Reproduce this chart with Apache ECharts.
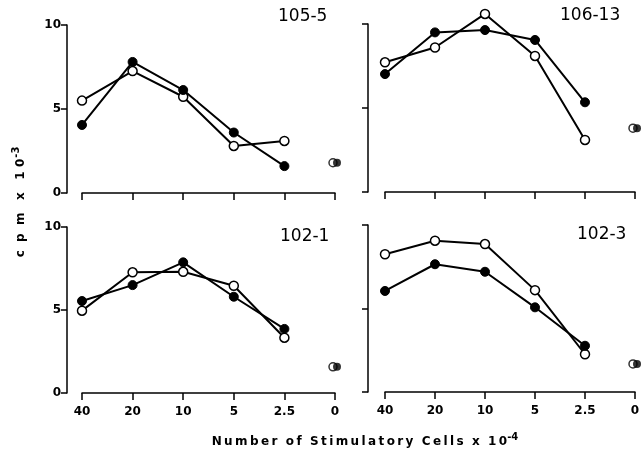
<!DOCTYPE html>
<html>
<head>
<meta charset="utf-8">
<script src="https://cdn.jsdelivr.net/npm/echarts@6/dist/echarts.min.js"></script>
<style>
  html, body { margin: 0; background: #fff; }
  #chart { width: 644px; height: 454px; }
</style>
</head>
<body>
<div id="chart"></div>
<script>
// stimulatory cell doses (x 10^-4), 0 = background
const doses = ["40", "20", "10", "5", "2.5", "0"];
const panelNames = ["105-5", "106-13", "102-1", "102-3"];

// cpm x 10^-3, filled circles
const filledCpm = [
  [4.05, 7.8, 6.13, 3.6, 1.6],
  [7.02, 9.5, 9.64, 9.05, 5.34],
  [5.54, 6.5, 7.87, 5.8, 3.86],
  [6.05, 7.65, 7.2, 5.07, 2.77],
];
// cpm x 10^-3, open circles
const openCpm = [
  [5.5, 7.26, 5.73, 2.8, 3.1],
  [7.72, 8.6, 10.6, 8.1, 3.1],
  [4.96, 7.27, 7.3, 6.46, 3.33],
  [8.25, 9.06, 8.86, 6.1, 2.26],
];
// background (no stimulatory cells)
const filledZero = [1.8, 3.8, 1.58, 1.68];
const openZero = [1.8, 3.8, 1.58, 1.68];

const FONT = "DejaVu Sans";
const layout = [
  { left: 82, top: 25, width: 253, height: 168, yOffset: 15, yLabels: true, xLabels: false, name: [278, 18] },
  { left: 385, top: 24, width: 250, height: 168, yOffset: 17, yLabels: false, xLabels: false, name: [560, 17] },
  { left: 82, top: 227, width: 253, height: 166, yOffset: 15, yLabels: true, xLabels: true, name: [280, 238] },
  { left: 385, top: 225, width: 250, height: 167, yOffset: 17, yLabels: false, xLabels: true, name: [577, 236] },
];

const spaced = (s) => s.split("").join("\u2009");

const grid = [], xAxis = [], yAxis = [], series = [], graphic = [];

layout.forEach((p, i) => {
  grid.push({ left: p.left, top: p.top, width: p.width, height: p.height });
  xAxis.push({
    type: "category",
    gridIndex: i,
    data: doses,
    boundaryGap: false,
    axisLine: { lineStyle: { color: "#000", width: 1.5 } },
    axisTick: { show: true, length: 7, interval: 0, lineStyle: { color: "#000", width: 1.5 } },
    axisLabel: {
      show: p.xLabels, interval: 0, margin: 13, color: "#000",
      fontFamily: FONT, fontWeight: "bold", fontSize: 12,
    },
    splitLine: { show: false },
  });
  yAxis.push({
    type: "value",
    gridIndex: i,
    min: 0, max: 10, interval: 5,
    offset: p.yOffset,
    axisLine: { show: true, lineStyle: { color: "#000", width: 1.5 } },
    axisTick: { show: true, length: 6, lineStyle: { color: "#000", width: 1.5 } },
    axisLabel: {
      show: p.yLabels, margin: 6, color: "#000",
      fontFamily: FONT, fontWeight: "bold", fontSize: 12,
    },
    splitLine: { show: false },
  });

  const common = {
    type: "line", xAxisIndex: i, yAxisIndex: i,
    symbol: "circle", symbolSize: 9, clip: false,
    lineStyle: { color: "#000", width: 2 },
  };
  series.push({
    ...common, name: "open", z: 2,
    data: openCpm[i],
    itemStyle: { color: "#fff", borderColor: "#000", borderWidth: 1.5 },
  });
  series.push({
    ...common, name: "filled", z: 3,
    data: filledCpm[i],
    itemStyle: { color: "#000", borderColor: "#000", borderWidth: 1 },
  });
  series.push({
    type: "scatter", xAxisIndex: i, yAxisIndex: i, z: 2,
    symbol: "circle", symbolSize: 8, symbolOffset: [-2, 0], clip: false,
    data: [[doses.length - 1, openZero[i]]],
    itemStyle: { color: "#fff", borderColor: "#000", borderWidth: 1.5 },
  });
  series.push({
    type: "scatter", xAxisIndex: i, yAxisIndex: i, z: 3,
    symbol: "circle", symbolSize: 8, symbolOffset: [2, 0], clip: false,
    data: [[doses.length - 1, filledZero[i]]],
    itemStyle: { color: "#000" },
  });

  graphic.push({
    type: "text", left: p.name[0], top: p.name[1] - 10,
    style: { text: panelNames[i], font: "17px " + FONT, fill: "#000" },
  });
});

// y axis title
graphic.push({
  type: "text",
  x: 21, y: 202, rotation: Math.PI / 2,
  style: {
    text: "{a|c  p  m   x   1 0}{s|-3}",
    align: "center", verticalAlign: "middle",
    rich: {
      a: { font: "bold 12px " + FONT, fill: "#000" },
      s: { font: "bold 10px " + FONT, fill: "#000", padding: [0, 0, 9, 1] },
    },
  },
});
// x axis title
graphic.push({
  type: "text",
  x: 365, y: 442,
  style: {
    text: "{a|" + spaced("Number") + "  " + spaced("of") + "  " + spaced("Stimulatory") + "  " +
      spaced("Cells") + "  x  " + spaced("10") + "}{s|-4}",
    align: "center", verticalAlign: "middle",
    rich: {
      a: { font: "bold 12px " + FONT, fill: "#000" },
      s: { font: "bold 10px " + FONT, fill: "#000", padding: [0, 0, 10, 0] },
    },
  },
});

const chart = echarts.init(document.getElementById("chart"));
chart.setOption({
  animation: false,
  backgroundColor: "#fff",
  grid, xAxis, yAxis, series, graphic,
});
</script>
</body>
</html>
